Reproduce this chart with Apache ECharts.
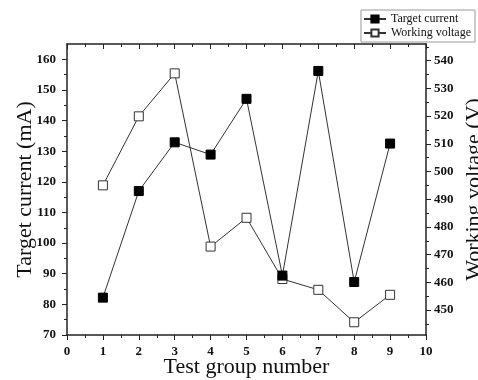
<!DOCTYPE html>
<html>
<head>
<meta charset="utf-8">
<script src="https://cdn.jsdelivr.net/npm/echarts@6/dist/echarts.min.js"></script>
<style>
html, body { margin: 0; padding: 0; background: #fff; }
#main { width: 478px; height: 380px; }
</style>
</head>
<body>
<div id="main"></div>
<script>
const groups = [1, 2, 3, 4, 5, 6, 7, 8, 9];
const targetCurrent = [82.2, 117.0, 132.9, 128.9, 147.1, 89.4, 156.2, 87.3, 132.5];
const workingVoltage = [495.0, 519.9, 535.4, 472.9, 483.3, 461.2, 457.3, 445.6, 455.5];

const xTicks = [0, 1, 2, 3, 4, 5, 6, 7, 8, 9, 10];
const xMinor = [0.5, 1.5, 2.5, 3.5, 4.5, 5.5, 6.5, 7.5, 8.5, 9.5];
const leftTicks = [70, 80, 90, 100, 110, 120, 130, 140, 150, 160];
const leftMinor = [75, 85, 95, 105, 115, 125, 135, 145, 155];
const rightTicks = [450, 460, 470, 480, 490, 500, 510, 520, 530, 540];
const rightMinor = [445, 455, 465, 475, 485, 495, 505, 515, 525, 535, 545];

const font = 'Liberation Serif';
const lineCol = '#222';

const mainEl = document.getElementById('main');
const chart = echarts.init(mainEl);

function axisBase(pos, min, max) {
    return {
        type: 'value', position: pos, min: min, max: max,
        splitLine: { show: false },
        axisLine: { show: true, onZero: false, lineStyle: { color: lineCol, width: 1.5 } },
        axisTick: { show: true, lineStyle: { color: lineCol, width: 1 } },
        axisLabel: { show: false }
    };
}

function mainAxis(pos, min, max, ticks, name, gap, margin, inside) {
    const a = axisBase(pos, min, max);
    a.axisTick.customValues = ticks;
    a.axisTick.length = 5;
    a.axisTick.inside = !!inside;
    if (name !== null) {
        a.axisLabel = {
            show: true, customValues: ticks, margin: margin,
            fontFamily: font, fontWeight: 'bold', fontSize: 13, color: '#111'
        };
        a.name = name;
        a.nameLocation = 'middle';
        a.nameGap = gap;
        a.nameMoveOverlap = false;
        a.nameTextStyle = { fontFamily: font, fontSize: 22, color: '#111' };
    }
    return a;
}

function minorAxis(pos, min, max, ticks, inside) {
    const a = axisBase(pos, min, max);
    a.axisLine.show = false;
    a.axisTick.customValues = ticks;
    a.axisTick.length = 3;
    a.axisTick.inside = !!inside;
    return a;
}

const option = {
    backgroundColor: '#fff',
    animation: false,
    grid: { left: 67, right: 52, top: 44, bottom: 45, outerBoundsMode: 'none' },
    legend: {
        orient: 'vertical',
        right: 3, top: 10,
        padding: [3, 4, 3, 2],
        itemGap: 2,
        itemWidth: 22, itemHeight: 9,
        borderColor: '#999', borderWidth: 1,
        textStyle: { fontFamily: font, fontSize: 12, color: '#111' },
        data: ['Target current', 'Working voltage']
    },
    xAxis: [
        mainAxis('bottom', 0, 10, xTicks, 'Test group number', 21, 10, false),
        minorAxis('bottom', 0, 10, xMinor, false),
        mainAxis('top', 0, 10, xTicks, null, 0, 0, true),
        minorAxis('top', 0, 10, xMinor, true)
    ],
    yAxis: [
        mainAxis('left', 70, 165, leftTicks, 'Target current (mA)', 31, 11, false),
        minorAxis('left', 70, 165, leftMinor, false),
        mainAxis('right', 441, 546, rightTicks, 'Working voltage (V)', 37, 8, false),
        minorAxis('right', 441, 546, rightMinor, false)
    ],
    series: [
        {
            name: 'Target current',
            type: 'line',
            xAxisIndex: 0, yAxisIndex: 0,
            data: groups.map((g, i) => [g, targetCurrent[i]]),
            symbol: 'rect', symbolSize: 9,
            lineStyle: { color: '#333', width: 1 },
            itemStyle: { color: '#000', borderColor: '#000', borderWidth: 1 },
            z: 3
        },
        {
            name: 'Working voltage',
            type: 'line',
            xAxisIndex: 0, yAxisIndex: 2,
            data: groups.map((g, i) => [g, workingVoltage[i]]),
            symbol: 'rect', symbolSize: 9,
            lineStyle: { color: '#333', width: 1 },
            itemStyle: { color: '#fff', borderColor: '#333', borderWidth: 1 },
            z: 2
        }
    ]
};

chart.setOption(option);
</script>
</body>
</html>
